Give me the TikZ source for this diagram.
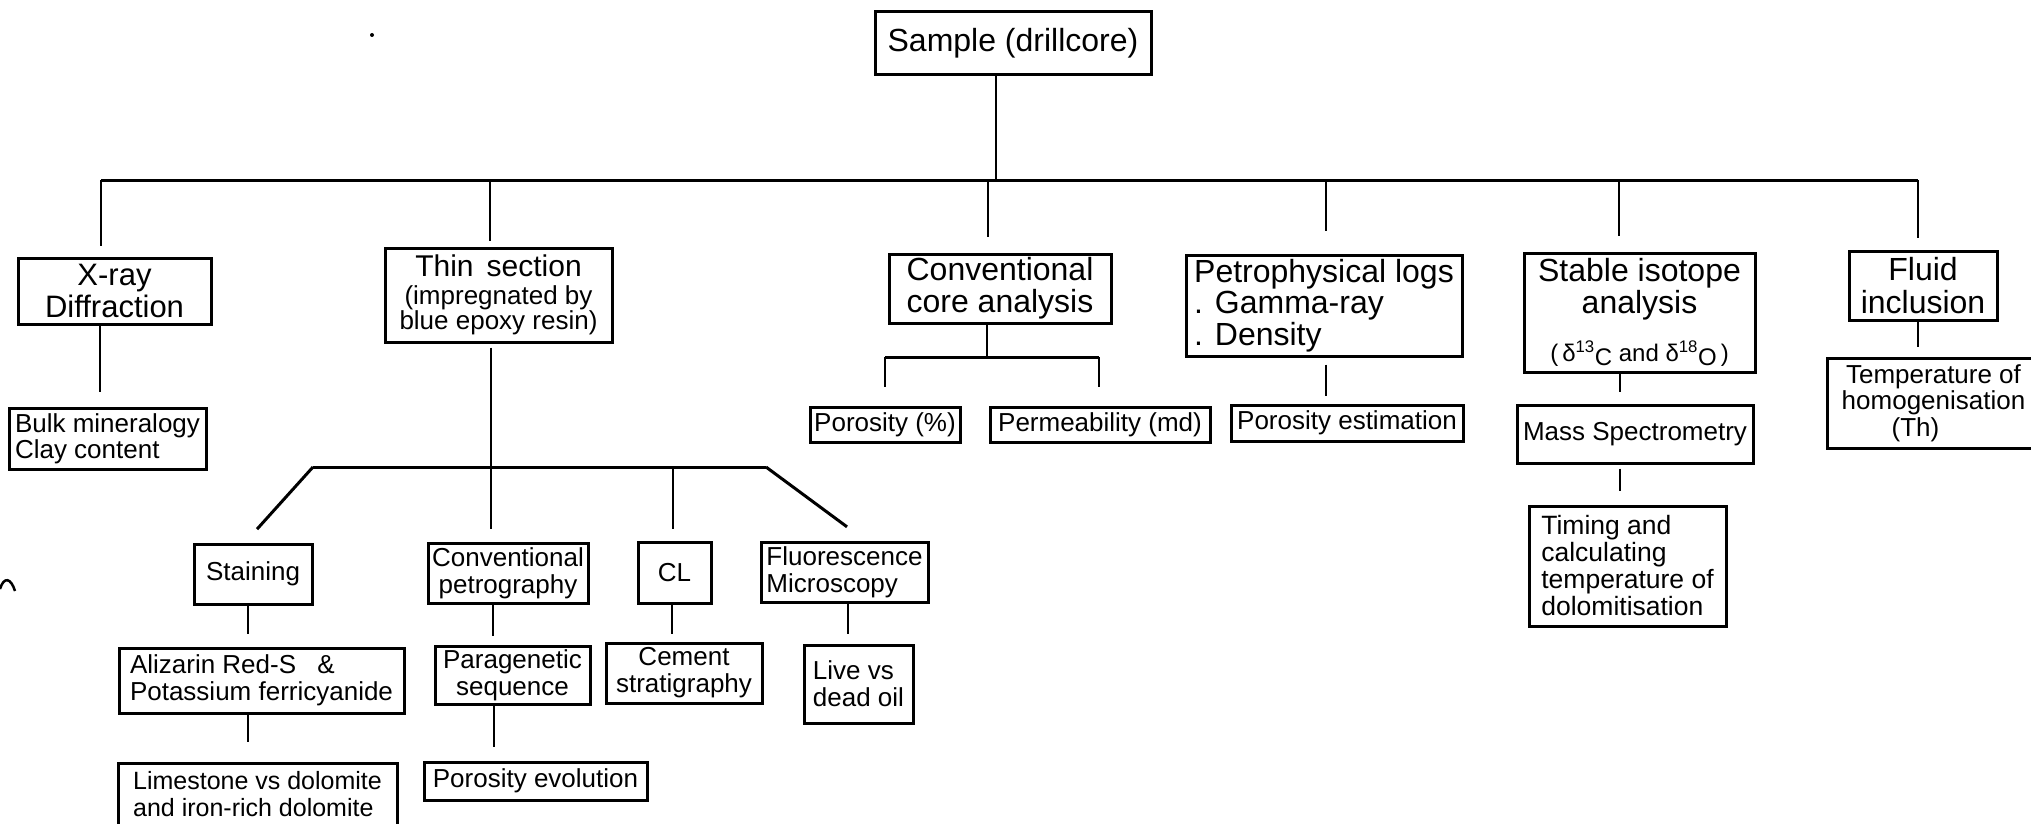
\documentclass[tikz,border=0pt]{standalone}
\usepackage{fontspec}
\setmainfont{Liberation Sans}
\newcommand\bigfnt{\fontsize{32}{32}\selectfont}
\newcommand\smallfnt{\fontsize{26}{27}\selectfont}
\tikzset{
  box/.style={draw, line width=3pt, inner sep=0pt, align=center},
  lbox/.style={box, align=left},
  big/.style={font=\bigfnt},
  small/.style={font=\smallfnt},
  link/.style={line width=2.3pt},
  hub/.style={line width=3pt}
}
\begin{document}
\begin{tikzpicture}[x=1pt, y=-1pt]
\useasboundingbox (0,0) rectangle (2031,824);

% ---------- level 0 ----------
\node[box, big, minimum width=276pt, minimum height=63pt] (sample) at (1013,43.5) {Sample (drillcore)};

% ---------- level 1 ----------
\node[box, font=\fontsize{31}{32}\selectfont, minimum width=193pt, minimum height=66pt] (xray) at (114.5,291) {X-ray\\Diffraction};
\node[box, font=\fontsize{26}{23}\selectfont, minimum width=227pt, minimum height=94pt] (thin) at (498.5,295)
  {{\fontsize{30}{30}\selectfont Thin\hspace{13pt}section}\\[5pt](impregnated by\\ blue epoxy resin)};
\node[lbox, big, minimum width=222pt, minimum height=69pt] (conv) at (1000,288.5) {Conventional\\core analysis};
\node[lbox, font=\fontsize{32}{31.5}\selectfont, minimum width=276pt, minimum height=101pt] (petro) at (1324,305.5) {Petrophysical logs\\. Gamma-ray\\. Density};
\node[box, big, minimum width=231pt, minimum height=119pt] (stable) at (1639.5,312.5)
  {Stable isotope\\analysis\hspace*{27pt}\\[16pt]{\fontsize{24}{24}\selectfont (\,δ\textsuperscript{13}\raisebox{-4pt}{C} and δ\textsuperscript{18}\raisebox{-4pt}{O}\,)}};
\node[box, font=\fontsize{32}{33}\selectfont, minimum width=148pt, minimum height=69pt] (fluid) at (1923,285.5) {Fluid\\inclusion};

% ---------- level 2 ----------
\node[lbox, font=\fontsize{26}{26}\selectfont, minimum width=197pt, minimum height=61pt] (bulk) at (107.5,438.5) {Bulk mineralogy\\Clay content};
\node[box, small, minimum width=150pt, minimum height=35pt] (poros) at (885,424.5) {Porosity (\%)};
\node[box, small, minimum width=220pt, minimum height=35pt] (perm) at (1100,424.5) {Permeability (md)};
\node[box, small, minimum width=232pt, minimum height=36pt] (porest) at (1347,423) {Porosity estimation};
\node[box, small, minimum width=236pt, minimum height=58pt] (mass) at (1635,434) {Mass Spectrometry};
\node[lbox, font=\fontsize{26.5}{27}\selectfont, minimum width=197pt, minimum height=120pt] (timing) at (1627.5,566)
  {Timing and\\calculating\\temperature of\\dolomitisation};
\node[box, font=\fontsize{26}{26.5}\selectfont, minimum width=213pt, minimum height=90pt] (temp) at (1933.5,403)
  {Temperature of\\homogenisation\\(Th)\hspace*{36pt}};

% ---------- thin-section branch ----------
\node[box, small, minimum width=118pt, minimum height=60pt] (staining) at (253,574) {Staining};
\node[box, small, minimum width=160pt, minimum height=60pt] (convpet) at (508,573) {Conventional\\petrography};
\node[box, small, minimum width=73pt, minimum height=61pt] (cl) at (674.5,572.5) {CL};
\node[lbox, small, minimum width=167pt, minimum height=60pt] (fluor) at (844.5,572) {Fluorescence\\Microscopy};
\node[lbox, small, minimum width=285pt, minimum height=65pt] (alizarin) at (261.5,680.5) {Alizarin Red-S\hspace{14pt} \&\\Potassium ferricyanide};
\node[box, small, minimum width=155pt, minimum height=58pt] (parag) at (512.5,675) {Paragenetic\\sequence};
\node[box, small, minimum width=156pt, minimum height=60pt] (cement) at (684,673) {Cement\\stratigraphy};
\node[lbox, small, minimum width=109pt, minimum height=78pt] (live) at (858.5,684) {Live vs\\dead oil};
\node[lbox, font=\fontsize{25}{27}\selectfont, minimum width=279pt, minimum height=63pt] (limestone) at (257.5,794.5) {Limestone vs dolomite\\and iron-rich dolomite};
\node[box, small, minimum width=223pt, minimum height=38pt] (porevol) at (535.5,781) {Porosity evolution};

% ---------- main trunk ----------
\coordinate (h0) at (996,180);
\coordinate (hL) at (101,180);
\coordinate (hR) at (1918,180);
\coordinate (b2) at (490,180);
\coordinate (b3) at (988,180);
\coordinate (b4) at (1326,180);
\coordinate (b5) at (1619,180);
\draw[link] ([xshift=-17pt]sample.south) -- (h0);
\draw[hub] (hL) -- (hR);
\draw[link, shorten >=11pt] (hL) -- (hL |- xray.north);
\draw[link, shorten >=6pt]  (b2) -- (b2 |- thin.north);
\draw[link, shorten >=16pt] (b3) -- (b3 |- conv.north);
\draw[link, shorten >=23pt] (b4) -- (b4 |- petro.north);
\draw[link, shorten >=16pt] (b5) -- (b5 |- stable.north);
\draw[link, shorten >=12pt] (hR) -- (hR |- fluid.north);

% ---------- X-ray ----------
\draw[link, shorten >=15pt] ([xshift=-14.5pt]xray.south) -- ([xshift=-7.5pt]bulk.north);

% ---------- thin section ----------
\coordinate (t0) at (491,467);
\coordinate (tL) at (313,467);
\coordinate (tR) at (766,467);
\coordinate (tc) at (673,467);
\draw[link, shorten <=4pt] ([xshift=-7.5pt]thin.south) -- (t0);
\draw[hub] (tL) -- (tR);
\draw[hub, shorten >=18pt] (tL) -- ([xshift=-8pt]staining.north);
\draw[hub, shorten >=23pt] (tR) -- ([xshift=21pt]fluor.north);
\draw[link, shorten >=13pt] (t0) -- ([xshift=-17pt]convpet.north);
\draw[link, shorten >=12pt] (tc) -- ([xshift=-1.5pt]cl.north);
\draw[link, shorten >=13pt] ([xshift=-5pt]staining.south) -- ([xshift=-13.5pt]alizarin.north);
\draw[link, shorten >=9pt]  ([xshift=-15pt]convpet.south) -- ([xshift=-19.5pt]parag.north);
\draw[link, shorten >=8pt]  ([xshift=-2.5pt]cl.south) -- ([xshift=-12pt]cement.north);
\draw[link, shorten >=10pt] ([xshift=3.5pt]fluor.south) -- ([xshift=-10.5pt]live.north);
\draw[link, shorten >=20pt] ([xshift=-13.5pt]alizarin.south) -- ([xshift=-9.5pt]limestone.north);
\draw[link, shorten >=14pt] ([xshift=-18.5pt]parag.south) -- ([xshift=-41.5pt]porevol.north);

% ---------- core analysis ----------
\coordinate (k0) at (987,357);
\coordinate (kL) at (885,357);
\coordinate (kR) at (1099,357);
\draw[link] ([xshift=-13pt]conv.south) -- (k0);
\draw[hub] (kL) -- (kR);
\draw[link, shorten >=19pt] (kL) -- (poros.north);
\draw[link, shorten >=19pt] (kR) -- ([xshift=-1pt]perm.north);

% ---------- logs, isotopes, inclusions ----------
\draw[link, shorten <=7pt, shorten >=8pt] ([xshift=2pt]petro.south) -- ([xshift=-21pt]porest.north);
\draw[link, shorten >=12pt] ([xshift=-19.5pt]stable.south) -- ([xshift=-15pt]mass.north);
\draw[link, shorten <=4pt, shorten >=14pt] ([xshift=-15pt]mass.south) -- ([xshift=-7.5pt]timing.north);
\draw[link, shorten >=10pt] ([xshift=-5pt]fluid.south) -- ([xshift=-15.5pt]temp.north);

% ---------- marks on the sheet ----------
\fill (372,35) circle (2pt);
\draw[line width=2.5pt] (0,589) .. controls (4,576) and (11,578) .. (15,591);
\end{tikzpicture}
\end{document}
